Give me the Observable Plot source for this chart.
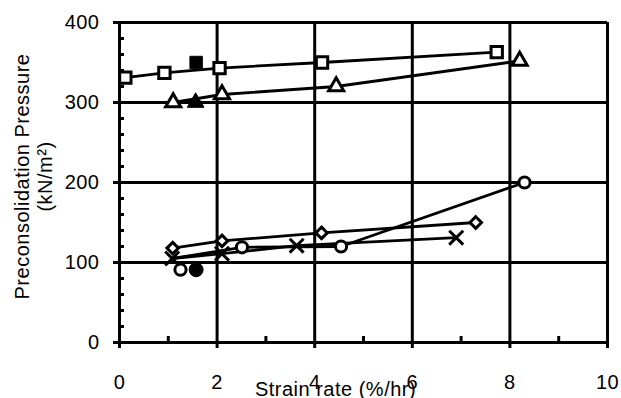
<!DOCTYPE html>
<html>
<head>
<meta charset="utf-8">
<script src="https://cdn.jsdelivr.net/npm/d3@7"></script>
<script src="https://cdn.jsdelivr.net/npm/@observablehq/plot@0.6"></script>
<style>
  html, body { margin: 0; padding: 0; background: #fff; }
</style>
</head>
<body>
<div id="chart"></div>
<script>
// Open-square series
const sqX = [0.12, 0.92, 2.05, 4.15, 7.73];
const sqY = [331, 337, 343, 350, 363];
// Open-triangle series
const triX = [1.1, 2.1, 4.44, 8.2];
const triY = [300, 310, 320, 352];
// Open-circle series (markers) and its connecting line
const cirX = [1.25, 2.51, 4.54, 8.3];
const cirY = [91, 119, 120, 200];
const cirLineX = [1.08, 2.51, 4.54, 8.3];
const cirLineY = [105, 119, 120, 200];
// Open-diamond series
const diaX = [1.09, 2.1, 4.14, 7.3];
const diaY = [118, 127, 137, 150];
// Cross series
const crsX = [1.08, 2.1, 3.63, 6.9];
const crsY = [105, 111, 121, 131];
// Filled single points
const fillSqX = [1.57], fillSqY = [350];
const fillTriX = [1.56], fillTriY = [300];
const fillCirX = [1.57], fillCirY = [91];

// Axis ticks
const xMajor = [0, 2, 4, 6, 8, 10];
const xMinor = [1, 3, 5, 7, 9];
const yMajor = [0, 100, 200, 300, 400];
const yMinor = d3.range(20, 400, 20).filter(v => v % 100 !== 0);
const xLabel = "Strain rate (%/hr)";
const yLabel = "Preconsolidation Pressure\n(kN/m²)";

const pts = (xs, ys) => xs.map((x, i) => ({x, y: ys[i]}));

const FONT = "'Liberation Sans', Arial, sans-serif";
const FS = 20;

const chart = Plot.plot({
  width: 621,
  height: 398,
  marginLeft: 119,
  marginRight: 14,
  marginTop: 22,
  marginBottom: 56,
  style: {fontFamily: FONT, fontSize: FS + "px", background: "#fff", color: "#000", letterSpacing: "0.5px"},
  x: {domain: [0, 10]},
  y: {domain: [0, 400]},
  marks: [
    // gridlines and frame
    Plot.ruleY(yMajor, {stroke: "#000", strokeWidth: 3}),
    Plot.ruleX(xMajor, {stroke: "#000", strokeWidth: 3}),
    // major ticks (outside) with labels
    Plot.axisY({ticks: yMajor, tickSize: 6, tickPadding: 14, strokeWidth: 3, fontSize: FS, label: null}),
    Plot.axisX({ticks: xMajor, tickSize: 6, tickPadding: 26, strokeWidth: 3, fontSize: FS, label: null}),
    // minor ticks (inside)
    Plot.tickY(yMinor, {y: d => d, insetRight: 483, stroke: "#000", strokeWidth: 3}),
    Plot.tickX(xMinor, {x: d => d, insetTop: 314, stroke: "#000", strokeWidth: 3}),
    // series lines
    Plot.line(pts(sqX, sqY), {x: "x", y: "y", stroke: "#000", strokeWidth: 2.8}),
    Plot.line(pts(triX, triY), {x: "x", y: "y", stroke: "#000", strokeWidth: 2.8}),
    Plot.line(pts(cirLineX, cirLineY), {x: "x", y: "y", stroke: "#000", strokeWidth: 2.8}),
    Plot.line(pts(diaX, diaY), {x: "x", y: "y", stroke: "#000", strokeWidth: 2.8}),
    Plot.line(pts(crsX, crsY), {x: "x", y: "y", stroke: "#000", strokeWidth: 2.8}),
    // markers
    Plot.dot(pts(sqX, sqY), {x: "x", y: "y", symbol: "square", r: 6.4, fill: "#fff", stroke: "#000", strokeWidth: 3}),
    Plot.dot(pts(triX, triY), {x: "x", y: "y", symbol: "triangle", r: 5.6, fill: "#fff", stroke: "#000", strokeWidth: 3}),
    Plot.dot(pts(cirX, cirY), {x: "x", y: "y", symbol: "circle", r: 5.6, fill: "#fff", stroke: "#000", strokeWidth: 3}),
    Plot.dot(pts(diaX, diaY), {x: "x", y: "y", symbol: "diamond2", r: 5.2, fill: "#fff", stroke: "#000", strokeWidth: 3}),
    Plot.dot(pts(crsX, crsY), {x: "x", y: "y", symbol: "times", r: 6.4, stroke: "#000", strokeWidth: 3}),
    Plot.dot(pts(fillSqX, fillSqY), {x: "x", y: "y", symbol: "square", r: 7, fill: "#000", stroke: "#000", strokeWidth: 1}),
    Plot.dot(pts(fillTriX, fillTriY), {x: "x", y: "y", symbol: "triangle", r: 6.2, fill: "#000", stroke: "#000", strokeWidth: 1}),
    Plot.dot(pts(fillCirX, fillCirY), {x: "x", y: "y", symbol: "circle", r: 7, fill: "#000", stroke: "#000", strokeWidth: 1}),
    // axis titles
    Plot.text([xLabel], {frameAnchor: "bottom", textAnchor: "middle", dx: -28, dy: 53, lineAnchor: "bottom", fontSize: FS, fill: "#000"}),
    Plot.text([yLabel], {frameAnchor: "left", textAnchor: "middle", dx: -86, dy: -6, rotate: -90, lineAnchor: "middle", lineHeight: 1.15, fontSize: FS, fill: "#000"})
  ]
});
document.getElementById("chart").appendChild(chart);
</script>
</body>
</html>
